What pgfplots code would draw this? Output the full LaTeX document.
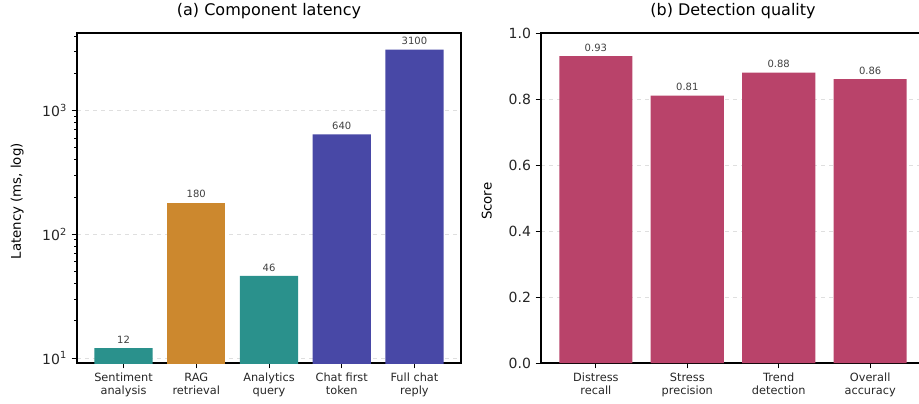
\documentclass[border=0pt]{standalone}
\usepackage{fontspec}
\setmainfont{DejaVu Sans}
\usepackage{pgfplots}
\pgfplotsset{compat=1.18}
\definecolor{cteal}{RGB}{42,145,140}
\definecolor{corange}{RGB}{204,136,46}
\definecolor{cblue}{RGB}{72,72,166}
\definecolor{ccrim}{RGB}{185,67,106}
\pgfplotsset{
  common/.style={
    scale only axis, width=288pt, height=247.5pt,
    anchor=north west,
    bar width=0.8, bar shift=0pt,
    axis lines=box,
    xtick align=outside, ytick align=outside,
    xtick pos=bottom, ytick pos=left,
    major tick length=4pt, minor tick length=2.2pt,
    every tick/.style={black, line width=0.6pt},
    axis line style={line width=0.8pt, black},
    ymajorgrids, major grid style={gray!25, dashed, line width=0.4pt},
    xticklabel style={font=\fontsize{8.5}{10}\selectfont, align=center, text=black!85},
    yticklabel style={font=\fontsize{10.5}{12}\selectfont, text=black!85},
    title style={font=\fontsize{12}{14}\selectfont, yshift=1pt},
    ylabel style={font=\fontsize{10.5}{12}\selectfont},
    point meta=explicit symbolic,
    nodes near coords,
    nodes near coords style={font=\fontsize{7.5}{9}\selectfont, text=black!75, anchor=south},
    /pgf/number format/assume math mode=true,
  }
}
\begin{document}
\begin{tikzpicture}
\begin{axis}[common, name=A,
  at={(57.75pt,-24.75pt)},
  title={(a) Component latency},
  ymode=log, ymin=9.1, ymax=4230,
  xmin=-0.64, xmax=4.64,
  xtick={0,1,2,3,4},
  ytick={10,100,1000},
  yticklabels={10\textsuperscript{1},10\textsuperscript{2},10\textsuperscript{3}},
  minor ytick={20,30,40,50,60,70,80,90,200,300,400,500,600,700,800,900,2000,3000,4000},
  xticklabels={Sentiment\\analysis, RAG\\retrieval, Analytics\\query, Chat first\\token, Full chat\\reply},
  ylabel={Latency (ms, log)},
  every axis y label/.style={at={(axis description cs:-0.156,0.49)}, rotate=90, anchor=center},
]
\addplot[ybar, fill=cteal, draw=none] coordinates {(0,12) [12] (2,46) [46]};
\addplot[ybar, fill=corange, draw=none] coordinates {(1,180) [180]};
\addplot[ybar, fill=cblue, draw=none] coordinates {(3,640) [640] (4,3100) [3100]};
\end{axis}
\draw[black, line width=0.8pt] (A.north west) -- (A.north east) -- (A.south east);
\begin{axis}[common, name=B,
  at={(405.75pt,-24.75pt)},
  title={(b) Detection quality},
  ymin=0, ymax=1,
  xmin=-0.6, xmax=3.6,
  xtick={0,1,2,3},
  ytick={0,0.2,0.4,0.6,0.8,1.0},
  yticklabel style={/pgf/number format/.cd, fixed, fixed zerofill, precision=1},
  xticklabels={Distress\\recall, Stress\\precision, Trend\\detection, Overall\\accuracy},
  ylabel={Score},
  every axis y label/.style={at={(axis description cs:-0.141,0.49)}, rotate=90, anchor=center},
]
\addplot[ybar, fill=ccrim, draw=none] coordinates {(0,0.93) [0.93] (1,0.81) [0.81] (2,0.88) [0.88] (3,0.86) [0.86]};
\end{axis}
\draw[black, line width=0.8pt] (B.north west) -- (B.north east);
\pgfresetboundingbox
\path (0,0) rectangle (689.25pt,-302.25pt);
\end{tikzpicture}
\end{document}
